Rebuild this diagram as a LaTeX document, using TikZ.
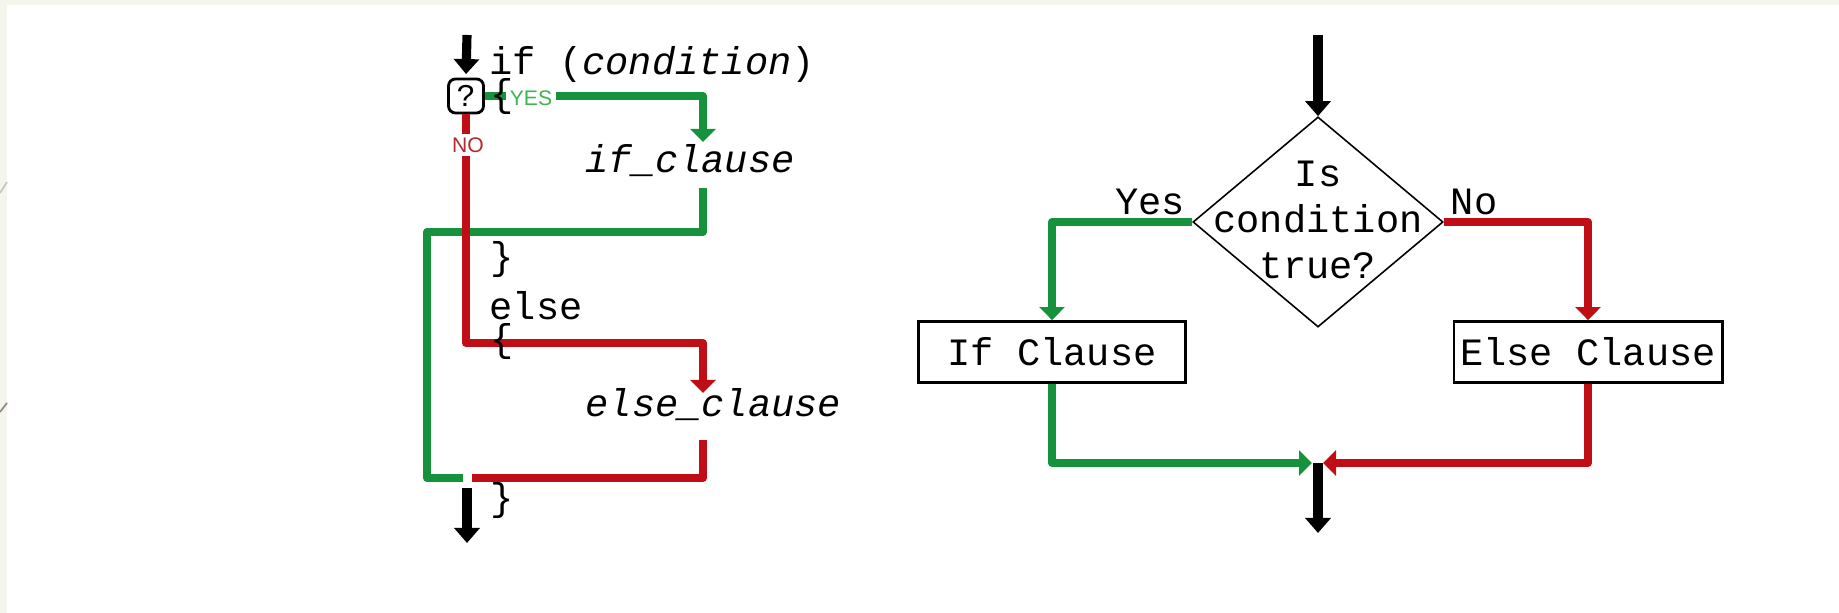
\documentclass[tikz,border=0pt]{standalone}
\usepackage{fontspec}
\usetikzlibrary{arrows.meta,shapes.geometric}
\newfontfamily\codefont{Liberation Mono}
\newfontfamily\tagfont{Liberation Sans}
\definecolor{flowgreen}{RGB}{22,146,60}
\definecolor{flowred}{RGB}{192,14,22}
\definecolor{yesgreen}{RGB}{60,180,80}
\definecolor{nored}{RGB}{180,40,50}
\definecolor{slidebg}{RGB}{244,245,236}
\definecolor{edgegrey}{RGB}{150,140,125}

\begin{document}
\begin{tikzpicture}[x=0.01cm,y=-0.01cm,
  code/.style={font=\codefont\fontsize{11}{13.2}\selectfont, inner sep=0pt, anchor=base west},
  codec/.style={font=\codefont\fontsize{11}{13.2}\selectfont, inner sep=0pt},
  tag/.style={font=\tagfont\fontsize{6}{7}\selectfont, inner sep=1pt},
  flow/.style={line width=2.3pt, line join=round},
  yesflow/.style={flow, draw=flowgreen},
  noflow/.style={flow, draw=flowred},
  flowtip/.style={-{Triangle[width=0.25cm,length=0.13cm]}},
  mainflow/.style={line width=2.6pt, -{Triangle[width=0.25cm,length=0.15cm]}},
  qbox/.style={draw, line width=0.8pt, rounded corners=0.07cm, minimum width=0.35cm,
    minimum height=0.34cm, inner sep=0pt, font=\codefont\fontsize{9}{10}\selectfont},
  clausebox/.style={draw, line width=0.8pt, minimum height=0.61cm, inner sep=0pt,
    font=\codefont\fontsize{11}{13.2}\selectfont},
  decision/.style={draw, diamond, line width=0.45pt, minimum width=2.5cm,
    minimum height=2.1cm, inner sep=0pt}
]
% page and slide background
\useasboundingbox (0,0) rectangle (1839,613);
\fill[slidebg] (0,0) rectangle (1839,613);
\fill[white] (7,5) rectangle (1839,613);
\draw[edgegrey!50, line width=0.5pt] (0,193) -- (7,182);
\draw[edgegrey, line width=0.5pt] (0,412) -- (7,403);

% ---------- code-shaped flow (left) ----------
\coordinate (topL) at (467,35);
\node[qbox] (q) at (466,96) {?};
\coordinate (ifin) at (703,142);
\coordinate (ifout) at (703,188);
\coordinate (elin) at (703,393);
\coordinate (elout) at (703,440);
\coordinate (mergeL) at (467,478);
\coordinate (outL) at (467,488);
\coordinate (exitL) at (467,543);

\draw[mainflow, shorten >=1pt] (topL) -- (q.north);
\draw[yesflow, flowtip] (q.east) -| (ifin);
\draw[yesflow] (ifout) |- (427,232) |- ([xshift=-0.04cm]mergeL);
\draw[noflow, flowtip] (q.south) |- (703,343) -- (elin);
\draw[noflow] (elout) |- ([xshift=0.05cm]mergeL);
\draw[mainflow] (outL) -- (exitL);

\node[tag, text=yesgreen, fill=white] (yes) at (531,98) {YES};
\node[tag, text=nored, fill=white] (no) at (468,145) {NO};

\node[code] (ifline) at (489,75) {if (\textit{condition})};
\node[code] (open1) at (490,107) {\{};
\node[code] (ifcl) at (585,173) {\textit{if\_clause}};
\node[code] (close1) at (490,270) {\}};
\node[code] (elsekw) at (489,320) {else};
\node[code] (open2) at (490,352) {\{};
\node[code] (elcl) at (585,417) {\textit{else\_clause}};
\node[code] (close2) at (490,511) {\}};

% ---------- flowchart (right) ----------
\coordinate (topR) at (1318,35);
\node[decision] (dec) at (1318,222) {};
\node[codec, align=center] (dectext) at (1318,220) {Is\\condition\\true?};
\node[clausebox, minimum width=2.67cm] (ifc) at (1052,352) {If Clause};
\node[clausebox, minimum width=2.68cm] (elc) at (1588,352) {Else Clause};
\coordinate (mergeR) at (1318,463);
\coordinate (exitR) at (1318,533);

\draw[mainflow] (topR) -- (dec.north);
\draw[yesflow, flowtip] (dec.west) -| (ifc.north);
\draw[noflow, flowtip] (dec.east) -| (elc.north);
\draw[yesflow, flowtip] (ifc.south) |- ([xshift=-0.06cm]mergeR);
\draw[noflow, flowtip] (elc.south) |- ([xshift=0.05cm]mergeR);
\draw[mainflow] (mergeR) -- (exitR);

\node[codec, anchor=base] (yeslbl) at (1150,215) {Yes};
\node[codec, anchor=base] (nolbl) at (1474,215) {No};
\end{tikzpicture}
\end{document}
